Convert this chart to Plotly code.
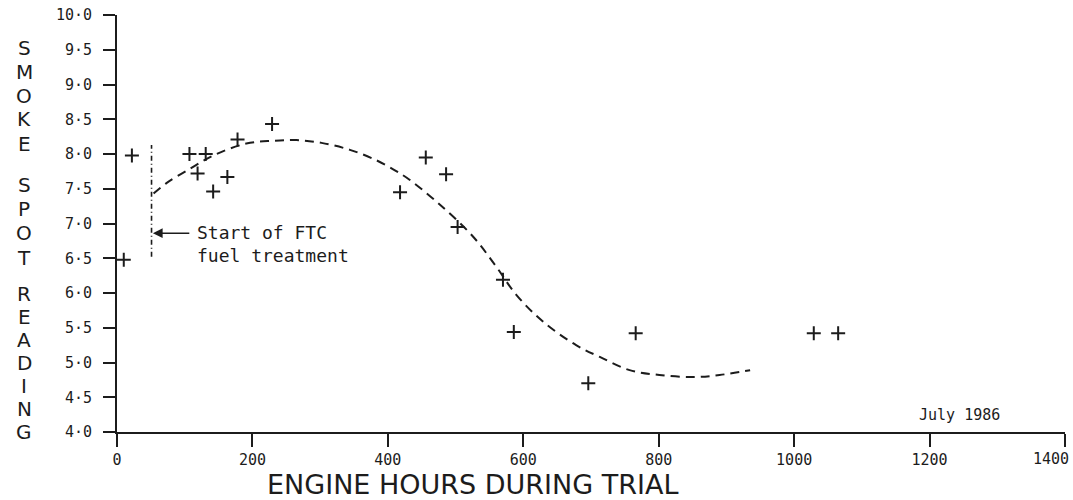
import plotly.graph_objects as go

# ---- data ----
hours = [10, 22, 107, 119, 131, 142, 163, 178, 229, 418, 456, 486, 503, 570, 586, 696, 766, 1029, 1065]
smoke = [6.48, 7.98, 8.0, 7.72, 8.0, 7.46, 7.67, 8.21, 8.43, 7.45, 7.95, 7.71, 6.95, 6.19, 5.44, 4.70, 5.42, 5.42, 5.42]

trend_hours = [54, 73, 108, 145, 191, 230, 265, 302, 344, 383, 413, 432, 477, 526, 560, 590, 629, 678, 713, 757, 801, 851, 890, 935]
trend_smoke = [7.43, 7.58, 7.79, 7.99, 8.15, 8.19, 8.20, 8.16, 8.06, 7.91, 7.75, 7.63, 7.27, 6.81, 6.38, 5.97, 5.59, 5.25, 5.08, 4.89, 4.82, 4.79, 4.82, 4.89]

treatment_start = 51
treatment_line_y = [6.52, 8.13]

x_ticks = [0, 200, 400, 600, 800, 1000, 1200, 1400]
x_tick_text = ["0", "200", "400", "600", "800", "1000", "1200", ""]
x_last_label = "1400"
y_ticks = [4.0, 4.5, 5.0, 5.5, 6.0, 6.5, 7.0, 7.5, 8.0, 8.5, 9.0, 9.5, 10.0]
y_tick_text = ["4·0", "4·5", "5·0", "5·5", "6·0", "6·5", "7·0", "7·5", "8·0", "8·5", "9·0", "9·5", "10·0"]

y_title_letters = ["S", "M", "O", "K", "E", "S", "P", "O", "T", "R", "E", "A", "D", "I", "N", "G"]
y_title_pos = [9.52, 9.18, 8.84, 8.50, 8.15, 7.56, 7.21, 6.86, 6.51, 5.98, 5.65, 5.32, 4.99, 4.66, 4.33, 4.0]

INK = "#1c1c1c"
TICK_FONT = dict(family="DejaVu Sans Mono, monospace", size=15, color=INK)

fig = go.Figure()

fig.add_trace(go.Scatter(
    x=trend_hours, y=trend_smoke, mode="lines",
    line=dict(color=INK, width=2, dash="9px,6px", shape="spline", smoothing=1.0),
    hoverinfo="skip", showlegend=False))

fig.add_trace(go.Scatter(
    x=[treatment_start, treatment_start], y=treatment_line_y, mode="lines",
    line=dict(color=INK, width=1.6, dash="5px,3px,1px,3px"),
    hoverinfo="skip", showlegend=False))

fig.add_trace(go.Scatter(
    x=hours, y=smoke, mode="markers",
    marker=dict(symbol="cross-thin", size=10, line=dict(color=INK, width=2)),
    showlegend=False))

annotations = []
for letter, pos in zip(y_title_letters, y_title_pos):
    annotations.append(dict(
        text=letter, xref="paper", yref="y", x=-0.098, y=pos,
        xanchor="center", yanchor="middle", showarrow=False,
        font=dict(family="DejaVu Sans, sans-serif", size=20, color=INK)))

annotations.append(dict(
    text="ENGINE HOURS DURING TRIAL", xref="paper", yref="paper",
    x=0.3755, y=-0.125, xanchor="center", yanchor="middle", showarrow=False,
    font=dict(family="DejaVu Sans, sans-serif", size=27, color=INK)))

annotations.append(dict(
    text=x_last_label, xref="x", yref="paper", x=x_ticks[-1], y=-0.0647,
    xanchor="right", yanchor="middle", xshift=6, showarrow=False,
    font=TICK_FONT))

annotations.append(dict(
    text="July 1986", xref="x", yref="y", x=1244, y=4.25,
    xanchor="center", yanchor="middle", showarrow=False,
    font=dict(family="DejaVu Sans Mono, monospace", size=15, color=INK)))

annotations.append(dict(
    text="Start of FTC<br>fuel treatment", xref="x", yref="y", x=115, y=6.70,
    xanchor="left", yanchor="middle", align="left", showarrow=False,
    font=dict(family="DejaVu Sans Mono, monospace", size=18, color=INK)))

annotations.append(dict(
    text="", xref="x", yref="y", x=treatment_start + 2, y=6.86,
    ax=109, ay=6.86, axref="x", ayref="y",
    showarrow=True, arrowhead=2, arrowsize=1.3, arrowwidth=1.5, arrowcolor=INK))

fig.update_layout(
    width=1073, height=500,
    margin=dict(l=117, r=8, t=15, b=68, autoexpand=False),
    paper_bgcolor="white", plot_bgcolor="white",
    annotations=annotations,
    xaxis=dict(
        range=[0, 1400], tickvals=x_ticks, ticktext=x_tick_text,
        showgrid=False, zeroline=False, showline=True, linecolor=INK, linewidth=2,
        ticks="outside", ticklen=13, tickwidth=2, tickcolor=INK, automargin=False,
        tickfont=TICK_FONT, ticklabelstandoff=0),
    yaxis=dict(
        range=[4, 10], tickvals=y_ticks, ticktext=y_tick_text,
        showgrid=False, zeroline=False, showline=True, linecolor=INK, linewidth=2,
        ticks="outside", ticklen=12, tickwidth=2, tickcolor=INK, automargin=False,
        tickfont=TICK_FONT, ticklabelstandoff=8),
)

fig.write_html("out.html", config={"displayModeBar": False},
               post_script="document.body.style.margin='0';")
